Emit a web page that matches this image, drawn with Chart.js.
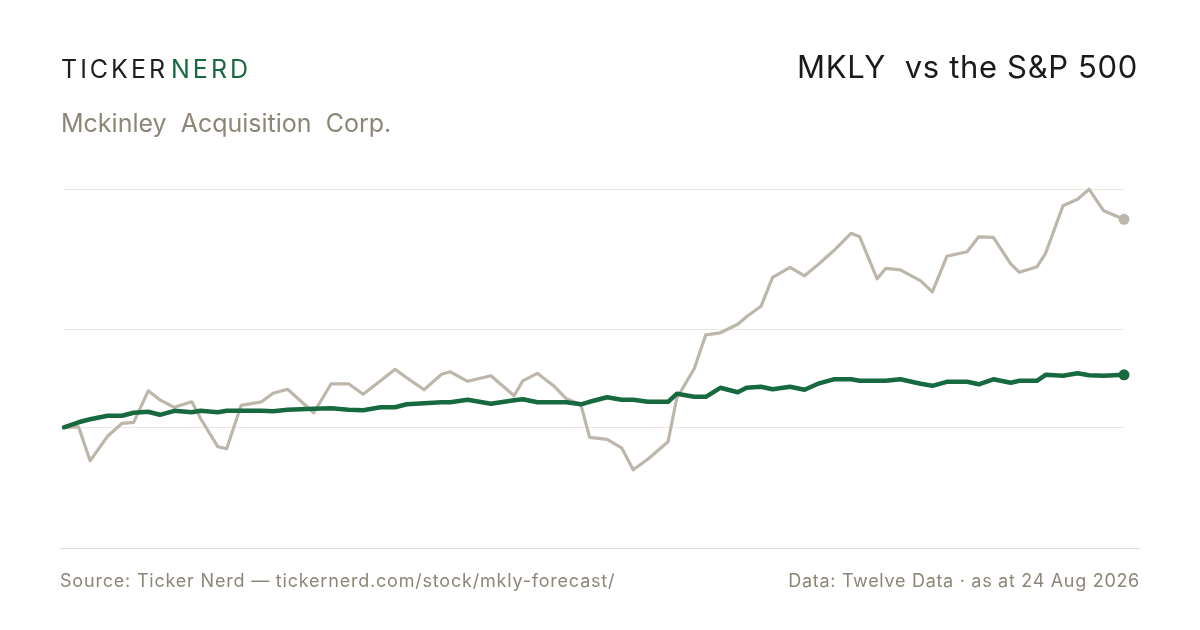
<!DOCTYPE html>
<html>
<head>
<meta charset="utf-8">
<script src="https://cdn.jsdelivr.net/npm/chart.js@4.4.1/dist/chart.umd.min.js"></script>
<style>
  html, body { margin:0; padding:0; background:#fff; }
  #wrap { position:relative; width:1200px; height:630px; overflow:hidden; font-family:Inter, "Noto Sans", sans-serif; }
  #c { position:absolute; left:0; top:0; }
  .t { position:absolute; line-height:1; white-space:pre; }
  #brand { left:61px; top:57px; font-size:25px; letter-spacing:3px; color:#1e1e1e; }
  #brand .n { color:#17693f; margin-left:3px; }
  #sub { left:61px; top:111px; font-size:25px; color:#8c8677; }
  #title { right:62px; top:51px; font-size:31px; letter-spacing:0.65px; color:#1a1a1a; }
  #src { left:60px; top:572px; font-size:18px; letter-spacing:0.8px; color:#8c8677; }
  #data { right:60px; top:572px; font-size:18px; letter-spacing:0.7px; color:#8c8677; }
  #rule { position:absolute; left:60px; width:1080px; top:548px; height:1px; background:#dedad0; }
</style>
</head>
<body>
<div id="wrap">
  <canvas id="c" width="1200" height="630"></canvas>
  <div class="t" id="brand">TICKER<span class="n">NERD</span></div>
  <div class="t" id="sub">Mckinley  Acquisition  Corp.</div>
  <div class="t" id="title">MKLY  vs the S&amp;P 500</div>
  <div id="rule"></div>
  <div class="t" id="src">Source: Ticker Nerd — tickernerd.com/stock/mkly-forecast/</div>
  <div class="t" id="data">Data: Twelve Data · as at 24 Aug 2026</div>
</div>
<script>
// Day offsets from start of period (calendar days)
const dayOffsets = [0,5,9,15,20,24,29,33,38,44,47,53,56,61,68,72,77,86,92,98,103,109,114,118,124,130,133,139,147,155,158,163,169,173,178,181,187,192,196,201,208,211,217,221,226,232,235,240,244,250,255,260,265,271,274,280,283,288,295,299,304,311,315,320,326,329,335,338,344,349,353,358,365];

// MKLY % change from start
const mklyReturn = [0.0,0.1,-6.7,-1.8,0.8,1.0,7.3,5.5,4.0,5.1,1.8,-3.9,-4.3,4.4,5.1,6.8,7.6,2.9,8.7,8.7,6.6,9.3,11.6,9.9,7.5,10.6,11.1,9.2,10.3,6.3,9.3,10.8,8.1,5.7,4.5,-2.0,-2.4,-4.1,-8.5,-6.4,-2.9,5.8,11.7,18.5,18.9,20.6,22.1,24.2,30.0,32.0,30.3,32.7,35.3,38.8,38.1,29.7,31.8,31.5,29.3,27.1,34.2,35.1,38.1,38.0,32.7,31.0,32.1,34.8,44.3,45.6,47.6,43.3,41.6];

// S&P 500 % change from start
const spxReturn = [0.0,1.0,1.6,2.3,2.3,2.9,3.1,2.5,3.3,3.0,3.3,3.0,3.3,3.3,3.3,3.2,3.5,3.7,3.8,3.5,3.4,4.0,4.0,4.6,4.8,5.0,5.0,5.5,4.7,5.4,5.6,5.0,5.0,5.0,4.6,5.1,6.0,5.5,5.5,5.1,5.1,6.7,6.1,6.1,7.9,7.0,7.9,8.1,7.6,8.1,7.5,8.8,9.6,9.6,9.3,9.3,9.3,9.6,8.7,8.3,9.1,9.1,8.6,9.6,8.9,9.3,9.3,10.5,10.3,10.8,10.4,10.3,10.5];

const seriesNames = ["MKLY", "S&P 500"];

const toPoints = (vals) => vals.map((v, i) => ({ x: dayOffsets[i], y: v }));
const allVals = mklyReturn.concat(spxReturn);
const dataMax = Math.max(...allVals);
const dataMin = Math.min(...allVals);
const gridValues = [0, (dataMin + dataMax) / 2, dataMax];

const lastDot = (r) => (ctx) => ctx.dataIndex === ctx.dataset.data.length - 1 ? r : 0;

new Chart(document.getElementById('c'), {
  type: 'line',
  data: {
    datasets: [
      {
        label: seriesNames[1],
        data: toPoints(spxReturn),
        borderColor: '#17693f',
        backgroundColor: '#17693f',
        borderWidth: 4.5,
        pointRadius: lastDot(5.5),
        pointBorderWidth: 0,
        pointHoverRadius: 0,
        tension: 0,
        order: 0,
        clip: false,
        borderJoinStyle: 'round',
        borderCapStyle: 'round'
      },
      {
        label: seriesNames[0],
        data: toPoints(mklyReturn),
        borderColor: '#bdb7ab',
        backgroundColor: '#bdb7ab',
        borderWidth: 3.2,
        pointRadius: lastDot(5.5),
        pointBorderWidth: 0,
        pointHoverRadius: 0,
        tension: 0,
        order: 1,
        clip: false,
        borderJoinStyle: 'round',
        borderCapStyle: 'round'
      }
    ]
  },
  options: {
    responsive: false,
    animation: false,
    events: [],
    layout: { padding: { left: 64, right: 76, top: 150, bottom: 110 } },
    plugins: { legend: { display: false }, tooltip: { enabled: false } },
    scales: {
      x: {
        type: 'linear',
        display: false,
        min: dayOffsets[0],
        max: dayOffsets[dayOffsets.length - 1]
      },
      y: {
        type: 'linear',
        min: -18.54,
        max: 55.46,
        afterBuildTicks: (s) => { s.ticks = gridValues.map(v => ({ value: v })); },
        afterFit: (s) => { s.width = 0; },
        ticks: { display: false },
        border: { display: false },
        grid: { color: '#ebe8e2', lineWidth: 1, drawTicks: false }
      }
    }
  }
});
</script>
</body>
</html>
